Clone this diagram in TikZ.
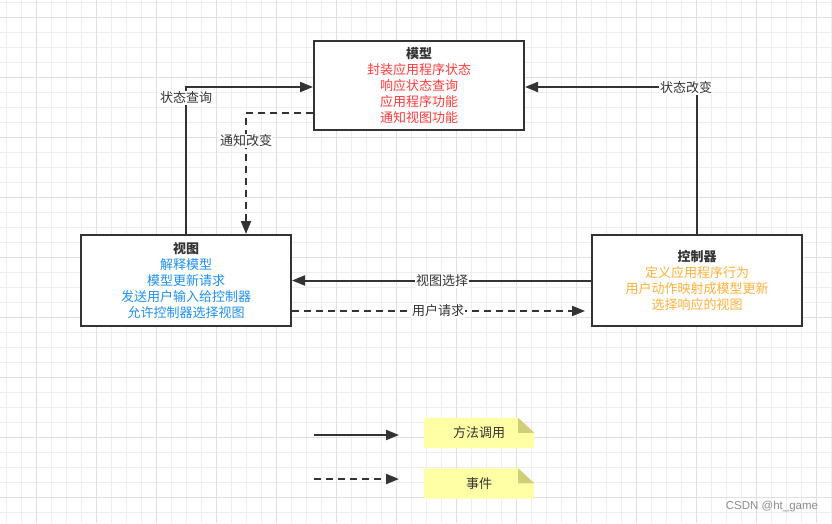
\documentclass[tikz,border=0pt]{standalone}
\usepackage{fontspec}
\setmainfont{Noto Sans CJK SC}
\newfontfamily\wmfont{Liberation Sans}
\usetikzlibrary{arrows.meta,calc}
\definecolor{lineC}{HTML}{333333}
\definecolor{gridminor}{HTML}{EEEEEE}
\definecolor{gridmajor}{HTML}{E0E0E0}
\definecolor{redT}{HTML}{FF3B3B}
\definecolor{blueT}{HTML}{1E90F0}
\definecolor{orangeT}{HTML}{FFB03A}
\definecolor{noteY}{HTML}{FFFFA6}
\definecolor{noteF}{HTML}{CFCF7A}
\tikzset{
  box/.style={draw=lineC, line width=2pt, fill=white, minimum width=210pt, inner sep=0pt,
    align=center, text=lineC, font=\fontsize{13pt}{16pt}\selectfont},
  conn/.style={draw=lineC, line width=2pt, -{Triangle[length=13pt,width=10pt]}},
  dashconn/.style={conn, dash pattern=on 7pt off 5pt},
  lab/.style={fill=white, inner sep=1pt, text=lineC, font=\fontsize{13pt}{15pt}\selectfont},
  notebox/.style={minimum width=110pt, minimum height=30pt, inner sep=0pt, text=lineC,
    font=\fontsize{13pt}{15pt}\selectfont}
}
\begin{document}
\begin{tikzpicture}[x=1pt,y=-1pt]
\useasboundingbox (0,0) rectangle (832,523);
\fill[white] (0,0) rectangle (832,523);
% grid
\foreach \i in {0,...,55} {\draw[gridminor, line width=1pt] (6+15*\i,0) -- (6+15*\i,523);}
\foreach \j in {0,...,34} {\draw[gridminor, line width=1pt] (0,2+15*\j) -- (832,2+15*\j);}
\foreach \i in {0,...,13} {\draw[gridmajor, line width=1pt] (36+60*\i,0) -- (36+60*\i,523);}
\foreach \j in {0,...,8} {\draw[gridmajor, line width=1pt] (0,17+60*\j) -- (832,17+60*\j);}

% boxes
\node[box, minimum height=89pt] (model) at (419,85.5)
  {\textbf{模型}\\\textcolor{redT}{封装应用程序状态}\\\textcolor{redT}{响应状态查询}\\\textcolor{redT}{应用程序功能}\\\textcolor{redT}{通知视图功能}};
\node[box, minimum height=91pt] (view) at (186,280.5)
  {\textbf{视图}\\\textcolor{blueT}{解释模型}\\\textcolor{blueT}{模型更新请求}\\\textcolor{blueT}{发送用户输入给控制器}\\\textcolor{blueT}{允许控制器选择视图}};
\node[box, minimum height=91pt] (ctrl) at (697,280.5)
  {\textbf{控制器}\\\textcolor{orangeT}{定义应用程序行为}\\\textcolor{orangeT}{用户动作映射成模型更新}\\\textcolor{orangeT}{选择响应的视图}};

% connectors
\draw[conn] (view.north) |- ([yshift=-1.5pt]model.west);
\node[lab] (lq) at (186,98) {状态查询};
\draw[dashconn] ([yshift=-27.5pt]model.west) -| ([xshift=60pt]view.north);
\node[lab] (ln) at (246,141) {通知改变};
\draw[conn] (ctrl.north) |- ([yshift=-1.5pt]model.east);
\node[lab] (lc) at (686,88) {状态改变};
\draw[conn] (ctrl.west) -- (view.east);
\node[lab] (ls) at (442,281) {视图选择};
\draw[dashconn] ([yshift=-30.5pt]view.east) -- ([yshift=-30.5pt,xshift=-6pt]ctrl.west);
\node[lab] (lr) at (438,311) {用户请求};

% legend
\coordinate (a1s) at (314,435);
\coordinate (a1e) at (399,435);
\coordinate (a2s) at (314,479);
\coordinate (a2e) at (399,479);
\draw[conn] (a1s) -- (a1e);
\draw[dashconn] (a2s) -- (a2e);
\node[notebox] (n1) at (479,433) {};
\node[notebox] (n2) at (479,483.5) {};
\foreach \n in {n1,n2} {
  \fill[noteY] (\n.north west) -- ([xshift=-16pt]\n.north east) -- ([yshift=-15pt]\n.north east) -- (\n.south east) -- (\n.south west) -- cycle;
  \fill[noteF] ([xshift=-16pt]\n.north east) -- ([yshift=-15pt]\n.north east) -- ([xshift=-16pt,yshift=-15pt]\n.north east) -- cycle;
}
\node[text=lineC, font=\fontsize{13pt}{15pt}\selectfont] at (n1) {方法调用};
\node[text=lineC, font=\fontsize{13pt}{15pt}\selectfont] at (n2) {事件};

% watermark
\node[text=black!45, font=\wmfont\fontsize{11.5pt}{13pt}\selectfont] (wm) at (772,507) {CSDN @ht\_game};
\end{tikzpicture}
\end{document}
